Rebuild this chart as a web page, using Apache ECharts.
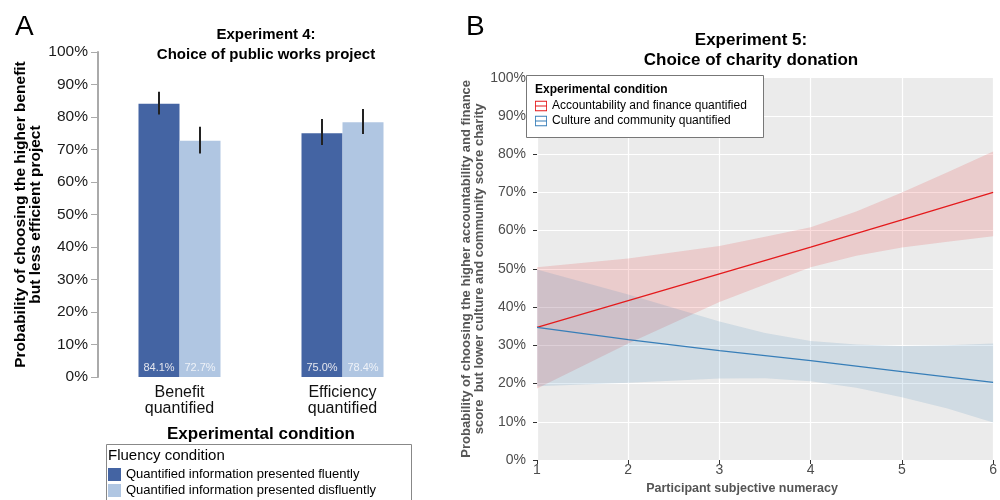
<!DOCTYPE html>
<html style="height: 100%">
<head>
	<meta charset="utf-8">
	<title>Experiments 4 and 5</title>
</head>
<body style="height: 100%; margin: 0">
<div id="container" style="width: 1000px; height: 500px"></div>

<script src="https://cdn.jsdelivr.net/npm/echarts@6/dist/echarts.min.js"></script>
<script type="text/javascript">
	// panel A data
	var conditions = ['Benefit\nquantified', 'Efficiency\nquantified'];
	var fluentPct = [84.1, 75.0];
	var disfluentPct = [72.7, 78.4];
	var fluentErr = [[80.8, 87.8], [71.4, 79.4]];
	var disfluentErr = [[68.8, 77.0], [74.8, 82.5]];

	// panel B data
	var numeracy = [1, 2, 3, 4, 5, 6];
	var accountLine = [34.7, 41.7, 48.7, 55.7, 62.8, 70.0];
	var cultureLine = [34.7, 31.5, 28.6, 26.0, 23.1, 20.3];
	var bandX = [1, 2, 3, 3.5, 4, 4.5, 5, 5.5, 6];
	var accountUpper = [50.4, 52.7, 56.0, 58.4, 60.9, 65.0, 70.0, 75.3, 80.7];
	var accountLower = [18.7, 30.5, 41.3, 45.9, 50.4, 53.4, 55.6, 57.1, 58.5];
	var cultureUpper = [49.8, 43.3, 36.2, 33.2, 31.1, 30.2, 29.8, 30.0, 30.5];
	var cultureLower = [19.3, 20.2, 21.3, 21.4, 20.6, 18.9, 16.4, 13.5, 9.8];

	var FONT = 'Liberation Sans, Arial, sans-serif';
	var BAR_W = 41;
	var DARK = '#4464a3';
	var LIGHT = '#b0c6e2';
	var RED = '#e41a1c';
	var BLUE = '#377eb8';

	var dom = document.getElementById('container');
	var myChart = echarts.init(dom, null, {renderer: 'canvas'});

	function zip(xs, a, b) {
		return xs.map(function (x, i) { return b ? [x, a[i], b[i]] : [x, a[i]]; });
	}

	function errBar(offset) {
		return function (params, api) {
			var p1 = api.coord([api.value(0), api.value(1)]);
			var p2 = api.coord([api.value(0), api.value(2)]);
			return {
				type: 'line',
				shape: {x1: p1[0] + offset, y1: p1[1], x2: p1[0] + offset, y2: p2[1]},
				style: {stroke: '#222', lineWidth: 2}
			};
		};
	}

	// draws the whole confidence band once, from the first item
	function band(xs, up, lo, fill) {
		return function (params, api) {
			if (params.dataIndex !== 0) return null;
			var pts = [];
			for (var i = 0; i < xs.length; i++) pts.push(api.coord([xs[i], up[i]]));
			for (var j = xs.length - 1; j >= 0; j--) pts.push(api.coord([xs[j], lo[j]]));
			return {type: 'polygon', shape: {points: pts}, style: {fill: fill}};
		};
	}

	var legendIcon = 'path://M0,0L14,0L14,12L0,12Z M1,1L1,11L13,11L13,1Z M1,5.4L13,5.4L13,6.6L1,6.6Z';

	var option = {
		animation: false,
		textStyle: {fontFamily: FONT},
		title: [
			{text: 'A', left: 10, top: 8, textStyle: {fontSize: 28, fontWeight: 'normal', color: '#000', fontFamily: FONT}},
			{text: 'Experiment 4:\nChoice of public works project', left: 261, top: 20, textAlign: 'center',
				textStyle: {fontSize: 15, fontWeight: 'bold', color: '#000', lineHeight: 20, fontFamily: FONT}},
			{text: 'B', left: 461, top: 8, textStyle: {fontSize: 28, fontWeight: 'normal', color: '#000', fontFamily: FONT}},
			{text: 'Experiment 5:\nChoice of charity donation', left: 746, top: 25, textAlign: 'center',
				textStyle: {fontSize: 17, fontWeight: 'bold', color: '#000', lineHeight: 20, fontFamily: FONT}}
		],
		grid: [
			{left: 98, right: 576, top: 52, bottom: 123},
			{left: 537, right: 2, top: 77.7, bottom: 39.3, show: true, backgroundColor: '#ebebeb', borderWidth: 0}
		],
		xAxis: [
			{
				type: 'category', gridIndex: 0, data: conditions,
				axisLine: {show: false}, axisTick: {show: false},
				axisLabel: {fontSize: 16, color: '#111', lineHeight: 16, margin: 8},
				name: 'Experimental condition', nameLocation: 'middle', nameGap: 49,
				nameTextStyle: {fontSize: 17, fontWeight: 'bold', color: '#000'}
			},
			{
				type: 'value', gridIndex: 1, min: 1, max: 6, interval: 1,
				axisLine: {show: false},
				axisTick: {show: true, length: 4, lineStyle: {color: '#333'}},
				axisLabel: {fontSize: 14, color: '#4d4d4d', margin: 3},
				splitLine: {show: true, lineStyle: {color: '#fff', width: 1.2}},
				name: 'Participant subjective numeracy', nameLocation: 'middle', nameGap: 22,
				nameTextStyle: {fontSize: 12.5, fontWeight: 'bold', color: '#555', padding: [0, 46, 0, 0]}
			}
		],
		yAxis: [
			{
				type: 'value', gridIndex: 0, min: 0, max: 100, interval: 10,
				axisLine: {show: true, lineStyle: {color: '#aaa', width: 2}},
				axisTick: {show: true, length: 7, lineStyle: {color: '#aaa'}},
				axisLabel: {fontSize: 15.5, color: '#1a1a1a', margin: 10, formatter: '{value}%'},
				splitLine: {show: false},
				name: 'Probability of choosing the higher benefit\nbut less efficient project',
				nameLocation: 'middle', nameGap: 55,
				nameTextStyle: {fontSize: 15.5, fontWeight: 'bold', color: '#000', lineHeight: 15}
			},
			{
				type: 'value', gridIndex: 1, min: 0, max: 100, interval: 10,
				axisLine: {show: false},
				axisTick: {show: true, length: 4, lineStyle: {color: '#333'}},
				axisLabel: {fontSize: 14, color: '#4d4d4d', margin: 11, formatter: '{value}%'},
				splitLine: {show: true, lineStyle: {color: '#fff', width: 1.2}},
				name: 'Probability of choosing the higher accountability and finance\nscore  but lower culture and community score charity',
				nameLocation: 'middle', nameGap: 49,
				nameTextStyle: {fontSize: 13, fontWeight: 'bold', color: '#555', lineHeight: 13}
			}
		],
		legend: [
			{
				data: ['Quantified information presented fluently', 'Quantified information presented disfluently'],
				orient: 'vertical', left: 108, top: 468, padding: 0, itemGap: 3,
				itemWidth: 13, itemHeight: 13, icon: 'rect', z: 20,
				textStyle: {fontSize: 13, color: '#000', fontFamily: FONT}
			},
			{
				data: ['Accountability and finance quantified', 'Culture and community quantified'],
				orient: 'vertical', left: 535, top: 100, padding: 0, itemGap: 3,
				itemWidth: 12, itemHeight: 12, icon: legendIcon, z: 20,
				textStyle: {fontSize: 12, color: '#000', fontFamily: FONT}
			}
		],
		graphic: [
			{type: 'rect', z: 10, shape: {x: 106.5, y: 444.5, width: 305, height: 70},
				style: {fill: '#fff', stroke: '#888', lineWidth: 1}},
			{type: 'text', z: 11, x: 108, y: 456,
				style: {text: 'Fluency condition', font: '15px ' + FONT, fill: '#000', verticalAlign: 'middle'}},
			{type: 'rect', z: 10, shape: {x: 526.5, y: 75.5, width: 237, height: 62},
				style: {fill: '#fff', stroke: '#777', lineWidth: 1}},
			{type: 'text', z: 11, x: 535, y: 90,
				style: {text: 'Experimental condition', font: 'bold 12px ' + FONT, fill: '#000', verticalAlign: 'middle'}}
		],
		series: [
			{
				name: 'Quantified information presented fluently', type: 'bar',
				xAxisIndex: 0, yAxisIndex: 0, data: fluentPct,
				barWidth: BAR_W, barGap: '0%', itemStyle: {color: DARK},
				label: {show: true, position: 'insideBottom', distance: 4, fontSize: 11, color: '#e4e6ee',
					formatter: function (p) { return p.value.toFixed(1) + '%'; }}
			},
			{
				name: 'Quantified information presented disfluently', type: 'bar',
				xAxisIndex: 0, yAxisIndex: 0, data: disfluentPct,
				barWidth: BAR_W, barGap: '0%', itemStyle: {color: LIGHT},
				label: {show: true, position: 'insideBottom', distance: 4, fontSize: 11, color: '#eef2f8',
					formatter: function (p) { return p.value.toFixed(1) + '%'; }}
			},
			{
				type: 'custom', xAxisIndex: 0, yAxisIndex: 0, z: 5,
				data: fluentErr.map(function (e, i) { return [i, e[0], e[1]]; }),
				renderItem: errBar(-BAR_W / 2)
			},
			{
				type: 'custom', xAxisIndex: 0, yAxisIndex: 0, z: 5,
				data: disfluentErr.map(function (e, i) { return [i, e[0], e[1]]; }),
				renderItem: errBar(BAR_W / 2)
			},
			{
				type: 'custom', xAxisIndex: 1, yAxisIndex: 1, z: 1, silent: true,
				data: zip(bandX, accountUpper, accountLower),
				renderItem: band(bandX, accountUpper, accountLower, 'rgba(228,26,28,0.15)')
			},
			{
				type: 'custom', xAxisIndex: 1, yAxisIndex: 1, z: 1, silent: true,
				data: zip(bandX, cultureUpper, cultureLower),
				renderItem: band(bandX, cultureUpper, cultureLower, 'rgba(55,126,184,0.15)')
			},
			{
				name: 'Accountability and finance quantified', type: 'line',
				xAxisIndex: 1, yAxisIndex: 1, data: zip(numeracy, accountLine),
				showSymbol: false, color: RED, lineStyle: {color: RED, width: 1.3}
			},
			{
				name: 'Culture and community quantified', type: 'line',
				xAxisIndex: 1, yAxisIndex: 1, data: zip(numeracy, cultureLine),
				showSymbol: false, color: BLUE, lineStyle: {color: BLUE, width: 1.3}
			}
		]
	};

	myChart.setOption(option);
	window.addEventListener('resize', myChart.resize);
</script>
</body>
</html>
